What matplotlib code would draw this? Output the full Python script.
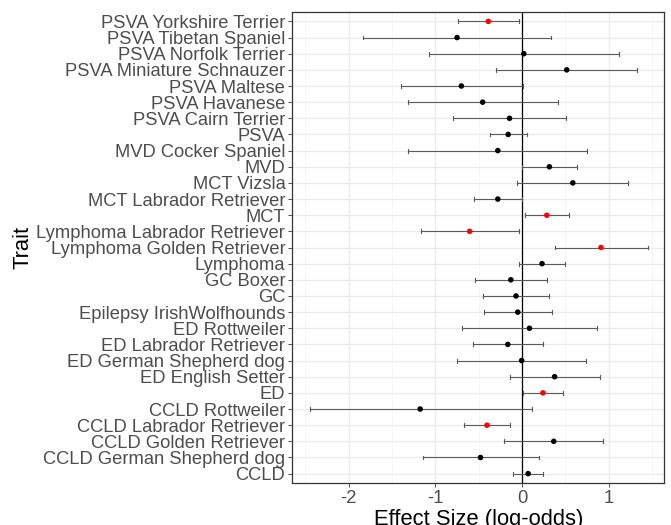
import numpy as np
import matplotlib
matplotlib.use('Agg')
import matplotlib.pyplot as plt

plt.rcParams['font.family'] = ['Liberation Sans', 'DejaVu Sans']

# traits, listed top to bottom as in the figure
traits = [
    "PSVA Yorkshire Terrier", "PSVA Tibetan Spaniel", "PSVA Norfolk Terrier",
    "PSVA Miniature Schnauzer", "PSVA Maltese", "PSVA Havanese",
    "PSVA Cairn Terrier", "PSVA", "MVD Cocker Spaniel", "MVD", "MCT Vizsla",
    "MCT Labrador Retriever", "MCT", "Lymphoma Labrador Retriever",
    "Lymphoma Golden Retriever", "Lymphoma", "GC Boxer", "GC",
    "Epilepsy IrishWolfhounds", "ED Rottweiler", "ED Labrador Retriever",
    "ED German Shepherd dog", "ED English Setter", "ED", "CCLD Rottweiler",
    "CCLD Labrador Retriever", "CCLD Golden Retriever",
    "CCLD German Shepherd dog", "CCLD",
]
effect = [-0.39, -0.75, 0.02, 0.515, -0.70, -0.455, -0.145, -0.16, -0.28, 0.315,
          0.585, -0.28, 0.285, -0.605, 0.91, 0.23, -0.13, -0.07, -0.05, 0.085,
          -0.165, -0.005, 0.375, 0.24, -1.175, -0.405, 0.365, -0.48, 0.07]
lower = [-0.74, -1.84, -1.07, -0.30, -1.40, -1.32, -0.80, -0.365, -1.31, 0.0,
         -0.06, -0.56, 0.035, -1.16, 0.375, -0.03, -0.545, -0.455, -0.44, -0.69,
         -0.57, -0.755, -0.14, 0.005, -2.45, -0.665, -0.21, -1.14, -0.10]
upper = [-0.04, 0.335, 1.115, 1.33, 0.015, 0.42, 0.51, 0.06, 0.75, 0.63,
         1.225, 0.0, 0.54, -0.04, 1.455, 0.49, 0.29, 0.31, 0.34, 0.86,
         0.24, 0.74, 0.90, 0.47, 0.11, -0.14, 0.935, 0.19, 0.245]
significant = ["PSVA Yorkshire Terrier", "MCT", "Lymphoma Labrador Retriever",
               "Lymphoma Golden Retriever", "ED", "CCLD Labrador Retriever"]

n = len(traits)
ypos = np.arange(n, 0, -1)  # first trait at top

fig = plt.figure(figsize=(6.71, 5.25), dpi=100)
ax = fig.add_axes([0.4356, 0.0794, 0.5544, 0.8983])

# grid like theme_bw
for xm in [-2.5, -1.5, -0.5, 0.5, 1.5]:
    ax.axvline(xm, color='#f2f2f2', lw=0.5, zorder=0)
for xm in [-2, -1, 0, 1]:
    ax.axvline(xm, color='#ebebeb', lw=1.0, zorder=0)
for y in ypos:
    ax.axhline(y, color='#ebebeb', lw=1.0, zorder=0)

ax.axvline(0, color='black', lw=0.9, zorder=1)

cap = 0.12
for y, lo, hi in zip(ypos, lower, upper):
    ax.plot([lo, hi], [y, y], color='#5a5a5a', lw=0.8, zorder=2)
    ax.plot([lo, lo], [y - cap, y + cap], color='#5a5a5a', lw=0.8, zorder=2)
    ax.plot([hi, hi], [y - cap, y + cap], color='#5a5a5a', lw=0.8, zorder=2)

colors = ['red' if t in significant else 'black' for t in traits]
ax.scatter(effect, ypos, s=16, c=colors, zorder=3, linewidths=0)

ax.set_xlim(-2.65, 1.64)
ax.set_ylim(0.4, n + 0.6)
ax.set_xticks([-2, -1, 0, 1])
ax.set_xticklabels(['-2', '-1', '0', '1'])
ax.set_yticks(ypos)
ax.set_yticklabels(traits)
ax.tick_params(axis='both', colors='#333333', labelcolor='#4d4d4d',
               labelsize=13.2, length=3, width=0.6, pad=2)

for sp in ax.spines.values():
    sp.set_color('#333333')
    sp.set_linewidth(0.9)

ax.set_xlabel('Effect Size (log-odds)', fontsize=15.8, labelpad=1)
ax.set_ylabel('Trait', fontsize=15.8, labelpad=2)

plt.savefig('out.png', dpi=100)
